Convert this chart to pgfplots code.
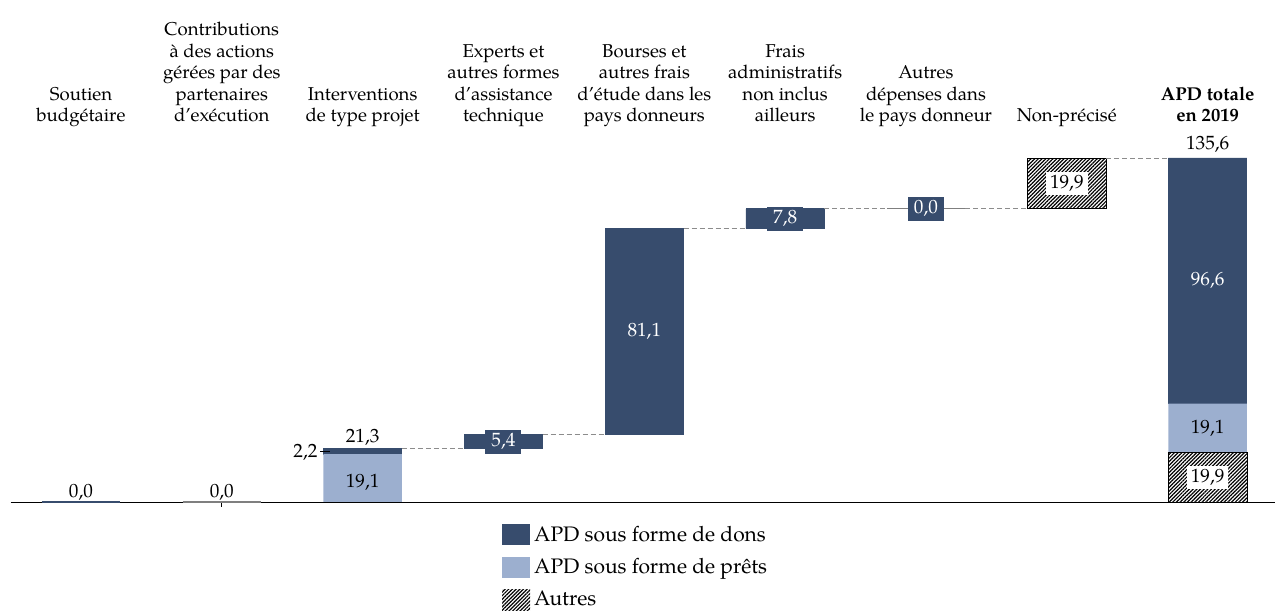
\documentclass[border=0pt]{standalone}
\usepackage{fontspec}
\setmainfont{TeX Gyre Pagella}
\usepackage{pgfplots}
\pgfplotsset{compat=1.18}
\usetikzlibrary{patterns.meta}
\definecolor{dons}{HTML}{374C6D}
\definecolor{prets}{HTML}{9CAFCF}
\definecolor{connector}{HTML}{8C8C8C}
\definecolor{baseline}{HTML}{595959}
\definecolor{zeroline}{HTML}{7F7F7F}

% same frame for all stacked layers
\pgfplotsset{wf/.style={width=638pt,height=304pt,scale only axis,
  xmin=-0.5749,xmax=8.481,ymin=-41.27,ymax=197.72,axis lines=none,clip=false}}
\tikzset{hatch/.style={pattern={Lines[angle=45,distance=1.3pt,line width=0.6pt]}},
  darkbox/.style={fill=dons,text=white,inner xsep=3pt,inner ysep=2pt},
  whitebox/.style={fill=white,inner xsep=2pt,inner ysep=1.5pt},
  val/.style={font=\fontsize{9.6}{11}\selectfont}}
\newcommand{\cat}[1]{\begin{tabular}[b]{@{}c@{}}#1\end{tabular}}

\begin{document}
\begin{tikzpicture}[font=\fontsize{9.3}{10.8}\selectfont]
% loans and grants on an invisible base
\begin{axis}[wf,ybar stacked,bar width=0.557]
\addplot[draw=none,fill=none] coordinates {(0,0) (1,0) (2,0) (3,21.3) (4,26.7) (5,107.8) (6,115.6) (7,115.6) (8,19.9)};
\addplot[draw=none,fill=prets] coordinates {(0,0) (1,0) (2,19.1) (3,0) (4,0) (5,0) (6,0) (7,0) (8,19.1)};
\addplot[draw=dons,fill=dons,line width=0.4pt] coordinates {(0,0) (1,0) (2,2.2) (3,5.4) (4,81.1) (5,7.8) (6,0) (7,0) (8,96.6)};
\end{axis}
% hatched "Autres"
\begin{axis}[wf,ybar stacked,bar width=0.557]
\addplot[draw=none,fill=none] coordinates {(7,115.6) (8,0)};
\addplot[draw=black,hatch] coordinates {(7,19.9) (8,19.9)};
\end{axis}
% lines, labels, legend
\begin{axis}[wf,
  legend image code/.code={\fill[#1,draw=none] (0pt,-5.25pt) rectangle (14pt,5.25pt);},
  legend style={at={(axis cs:2.988,-7.3)},anchor=north west,draw=none,fill=none,
    inner sep=0pt,row sep=3.2pt,font=\fontsize{10.5}{12}\selectfont},
  legend cell align=left]
\addlegendimage{fill=dons,draw=none}
\addlegendimage{fill=prets,draw=none}
\addlegendimage{hatch,draw=none}
\addplot[baseline,line width=0.6pt,forget plot] coordinates {(-0.5,0) (8.481,0)};
\addplot[baseline,line width=0.5pt,forget plot] coordinates {(1,0) (1,-1.6)};
% zero-height bars
\addplot[dons,line width=0.9pt,forget plot] coordinates {(-0.2785,0.35) (0.2785,0.35)};
\addplot[zeroline,line width=0.7pt,forget plot] coordinates {(0.7215,0.3) (1.2785,0.3)};
\addplot[zeroline,line width=0.6pt,forget plot] coordinates {(5.7215,115.6) (6.2785,115.6)};
% connectors
\addplot[connector,dash pattern=on 2.5pt off 1.5pt,forget plot] coordinates {(2.2785,21.3) (2.7215,21.3)};
\addplot[connector,dash pattern=on 2.5pt off 1.5pt,forget plot] coordinates {(3.2785,26.7) (3.7215,26.7)};
\addplot[connector,dash pattern=on 2.5pt off 1.5pt,forget plot] coordinates {(4.2785,107.8) (4.7215,107.8)};
\addplot[connector,dash pattern=on 2.5pt off 1.5pt,forget plot] coordinates {(5.2785,115.6) (5.7215,115.6)};
\addplot[connector,dash pattern=on 2.5pt off 1.5pt,forget plot] coordinates {(6.2785,115.6) (6.7215,115.6)};
\addplot[connector,dash pattern=on 2.5pt off 1.5pt,forget plot] coordinates {(7.2785,135.55) (7.7215,135.55)};
\addplot[black,line width=0.5pt,forget plot] coordinates {(1.70,20.2) (1.77,20.2)};
\legend{APD sous forme de dons,APD sous forme de prêts,Autres}

% category labels
\node[anchor=base,inner sep=0pt] at (0,149.8) {\cat{Soutien\\budgétaire}};
\node[anchor=base,inner sep=0pt] at (1,149.8) {\cat{Contributions\\à des actions\\gérées par des\\partenaires\\d’exécution}};
\node[anchor=base,inner sep=0pt] at (2,149.8) {\cat{Interventions\\de type projet}};
\node[anchor=base,inner sep=0pt] at (3,149.8) {\cat{Experts et\\autres formes\\d’assistance\\technique}};
\node[anchor=base,inner sep=0pt] at (4,149.8) {\cat{Bourses et\\autres frais\\d’étude dans les\\pays donneurs}};
\node[anchor=base,inner sep=0pt] at (5,149.8) {\cat{Frais\\administratifs\\non inclus\\ailleurs}};
\node[anchor=base,inner sep=0pt] at (6,149.8) {\cat{Autres\\dépenses dans\\le pays donneur}};
\node[anchor=base,inner sep=0pt] at (7,149.8) {\cat{Non-précisé}};
\node[anchor=base,inner sep=0pt] at (8,149.8) {\cat{\textbf{APD totale}\\\textbf{en 2019}}};

% value labels
\node[val,anchor=base] at (0,2) {0,0};
\node[val,anchor=base] at (1,2) {0,0};
\node[val,anchor=base] at (2,5.9) {19,1};
\node[val,anchor=base] at (2,23.6) {21,3};
\node[val,anchor=base east,inner sep=0pt] at (1.682,17.7) {2,2};
\node[val,darkbox] at (3,24) {5,4};
\node[val,text=white] at (4,67.25) {81,1};
\node[val,darkbox] at (5,111.7) {7,8};
\node[val,darkbox] at (6,115.6) {0,0};
\node[val,whitebox] at (7,125.55) {19,9};
\node[val,whitebox] at (8,9.95) {19,9};
\node[val] at (8,29.45) {19,1};
\node[val,text=white] at (8,87.3) {96,6};
\node[val,anchor=base] at (8,138.8) {135,6};
\path (rel axis cs:0,0) rectangle (rel axis cs:1,1);
\end{axis}
\end{tikzpicture}
\end{document}
